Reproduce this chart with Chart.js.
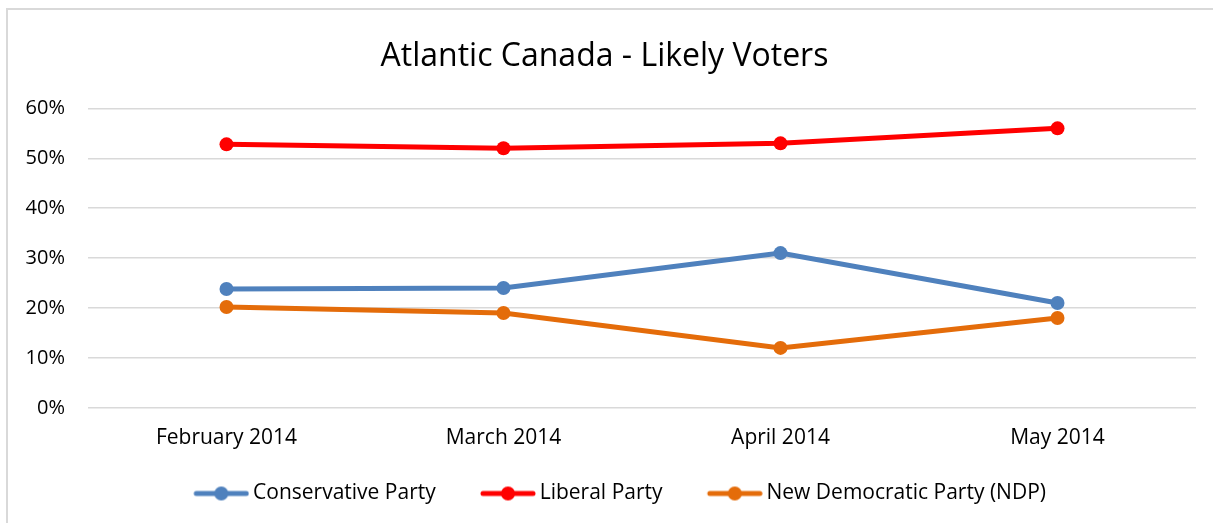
<!DOCTYPE html>
<html lang="en">
<head>
    <meta charset="UTF-8">
    <title>Atlantic Canada - Likely Voters</title>
    <script src="https://cdn.jsdelivr.net/npm/chart.js"></script>
    <style>
        html, body {
            margin: 0;
            padding: 0;
            background: #fff;
            overflow: hidden;
        }

        .frame {
            position: absolute;
            left: 6px;
            top: 8px;
            width: 1400px;
            height: 700px;
            border: 2px solid #d9d9d9;
        }

        .wrap {
            position: absolute;
            left: 0;
            top: 0;
            width: 1213px;
            height: 523px;
        }
    </style>
</head>
<body>
    <div class="frame"></div>
    <div class="wrap"><canvas id="pollChart"></canvas></div>

    <script>
        const months = ['February 2014', 'March 2014', 'April 2014', 'May 2014'];
        const conservative = [23.8, 24, 31, 21];
        const liberal = [52.8, 52, 53, 56];
        const ndp = [20.2, 19, 12, 18];
        const yTicks = [0, 10, 20, 30, 40, 50, 60];

        const FONT = '"Open Sans", "Noto Sans", sans-serif';

        // legend symbol: blank gap on the left, then a line with a dot in the middle
        const LEGEND_PAD = 14;
        const BOX_W = 93.5 - LEGEND_PAD;
        const ICON_W = Math.round(BOX_W + 13);
        function legendIcon(color) {
            const c = document.createElement('canvas');
            c.width = ICON_W;
            c.height = 16;
            const g = c.getContext('2d');
            const x0 = ICON_W - 56;
            g.strokeStyle = color;
            g.lineWidth = 5;
            g.lineCap = 'round';
            g.beginPath();
            g.moveTo(x0 + 3, 8);
            g.lineTo(x0 + 53, 8);
            g.stroke();
            g.fillStyle = color;
            g.beginPath();
            g.arc(x0 + 28, 8, 7, 0, Math.PI * 2);
            g.fill();
            return c;
        }

        function series(label, data, color) {
            return {
                label,
                data,
                borderColor: color,
                backgroundColor: color,
                borderWidth: 5,
                pointRadius: 7,
                pointHoverRadius: 7,
                pointBorderWidth: 0,
                pointStyle: 'circle',
                tension: 0,
                legendIcon: legendIcon(color)
            };
        }

        new Chart(document.getElementById('pollChart'), {
            type: 'line',
            data: {
                labels: months,
                datasets: [
                    series('Conservative Party', conservative, '#4f81bd'),
                    series('Liberal Party', liberal, '#ff0000'),
                    series('New Democratic Party (NDP)', ndp, '#e46c0a')
                ]
            },
            options: {
                responsive: true,
                maintainAspectRatio: false,
                animation: false,
                layout: {
                    padding: { left: 13, right: 17, top: 0, bottom: 9 }
                },
                plugins: {
                    title: {
                        display: true,
                        text: 'Atlantic Canada - Likely Voters',
                        color: '#000',
                        font: { family: FONT, size: 32, weight: 'normal' },
                        padding: { top: 38, bottom: 32 }
                    },
                    legend: {
                        position: 'bottom',
                        labels: {
                            usePointStyle: true,
                            pointStyleWidth: BOX_W,
                            padding: LEGEND_PAD,
                            color: '#000',
                            font: { family: FONT, size: 21 },
                            generateLabels(chart) {
                                return chart.data.datasets.map((ds, i) => ({
                                    text: ds.label,
                                    pointStyle: ds.legendIcon,
                                    fillStyle: ds.borderColor,
                                    strokeStyle: ds.borderColor,
                                    lineWidth: 0,
                                    hidden: false,
                                    datasetIndex: i
                                }));
                            }
                        }
                    },
                    tooltip: { enabled: false }
                },
                scales: {
                    x: {
                        offset: true,
                        grid: { display: false, drawTicks: false },
                        border: { display: false },
                        ticks: {
                            color: '#000',
                            padding: 18,
                            font: { family: FONT, size: 21 }
                        }
                    },
                    y: {
                        min: 0,
                        max: 60,
                        afterBuildTicks(scale) {
                            scale.ticks = yTicks.map(v => ({ value: v }));
                        },
                        afterFit(scale) {
                            scale.width = 75;
                        },
                        grid: {
                            color: '#d9d9d9',
                            lineWidth: 1.5,
                            drawTicks: false
                        },
                        border: { display: false },
                        ticks: {
                            color: '#000',
                            padding: 23,
                            font: { family: FONT, size: 20 },
                            callback: v => v + '%'
                        }
                    }
                }
            }
        });
    </script>
</body>
</html>
